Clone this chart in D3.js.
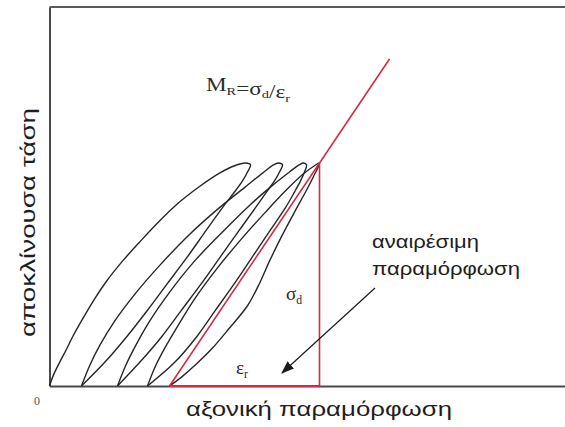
<!DOCTYPE html>
<html>
<head>
<meta charset="utf-8">
<script src="https://cdn.jsdelivr.net/npm/d3@7"></script>
<style>
  body { margin: 0; background: #fff; }
  svg { display: block; }
</style>
</head>
<body>
<svg id="chart" width="565" height="427"></svg>
<script>
// Repeated load–unload cycles: [axial strain, deviator stress] along each loop,
// loading branch first, then the unloading branch back to the strain axis.
const cycle1 = [
  [0, 0], [0.4, 5], [1, 10.5], [1.7, 16.5], [2.3, 22], [3.3, 30], [4.5, 39], [5.7, 47],
  [7.3, 56], [9, 64.5], [11, 74], [13, 82.5], [15, 89.5], [17, 95.5], [18.5, 98.8], [19.6, 100],
  [20.1, 99.2],
  [19.8, 96], [19.3, 92], [18.5, 87], [17.3, 80], [15.7, 70], [13.8, 58], [11.8, 46],
  [9.8, 34], [7.7, 22], [5.5, 10.5], [3.2, 0]
];
const cycle2 = [
  [3.2, 0], [4, 9], [5, 18], [6.5, 29], [8.5, 41], [11, 54], [14, 68], [17, 80], [19.5, 89],
  [21.3, 95.5], [22.4, 99.2], [22.9, 100],
  [23.3, 99.2],
  [23.0, 96], [22.5, 92], [21.7, 87], [20.6, 80], [19.0, 70], [17.1, 58], [15.2, 46],
  [13.2, 34], [11.2, 22], [9.0, 10.5], [6.8, 0]
];
const cycle3 = [
  [6.8, 0], [7.6, 9], [8.6, 18], [10, 29], [12, 42], [14.5, 56], [17.5, 70], [20, 81],
  [22.3, 90], [24, 96], [25, 99.3], [25.4, 100],
  [25.7, 99.2],
  [25.5, 96], [25.1, 92], [24.5, 87], [23.6, 80], [22.1, 70], [20.3, 58], [18.5, 46],
  [16.6, 34], [14.7, 22], [12.5, 10.5], [9.8, 0]
];
const cycle4 = [
  [9.8, 0], [10.5, 8], [11.4, 16], [12.7, 26], [14.5, 39], [16.8, 53], [19.2, 66], [21.6, 78],
  [23.7, 88], [25.4, 95.2], [26.5, 98.8], [27, 100],
  [26.4, 94], [25.6, 87], [24.5, 78], [23.2, 67], [22, 56], [21, 46], [19.8, 36], [18.0, 26],
  [16.3, 17], [14.6, 9.5], [13.2, 4], [12, 0]
];
const cycles = [cycle1, cycle2, cycle3, cycle4];

// Resilient modulus construction: permanent strain, peak strain, peak stress
const permanentStrain = 12;
const peakStrain = 27;
const peakStress = 100;
const modulusLineEnd = [34, 146.7];

// Text
const xAxisTitle = "αξονική παραμόρφωση";
const yAxisTitle = "αποκλίνουσα τάση";
const originLabel = "0";
const noteLines = ["αναιρέσιμη", "παραμόρφωση"];

const svg = d3.select("#chart");
const W = 565, H = 427;

const x = d3.scaleLinear().domain([0, 52]).range([49.5, 569.5]);
const y = d3.scaleLinear().domain([0, 170]).range([386, 7]);

// Frame: left and bottom axes plus a top rule
svg.append("g")
  .attr("transform", `translate(0,${y(0)})`)
  .call(d3.axisBottom(x).ticks(0).tickSizeOuter(0))
  .call(g => g.select(".domain").attr("stroke", "#4a4a4a").attr("stroke-width", 2));
svg.append("g")
  .attr("transform", `translate(${x(0)},0)`)
  .call(d3.axisLeft(y).ticks(0).tickSizeOuter(0))
  .call(g => g.select(".domain").attr("stroke", "#4a4a4a").attr("stroke-width", 2));
svg.append("line")
  .attr("x1", x(0)).attr("x2", W)
  .attr("y1", y(170)).attr("y2", y(170))
  .attr("stroke", "#5a5a5a").attr("stroke-width", 2);

// Hysteresis loops
const line = d3.line()
  .x(d => x(d[0])).y(d => y(d[1]))
  .curve(d3.curveCatmullRom.alpha(0.5));

svg.append("g")
  .selectAll("path")
  .data(cycles)
  .join("path")
  .attr("d", line)
  .attr("fill", "none")
  .attr("stroke", "#262626")
  .attr("stroke-width", 1.4);

// Resilient modulus triangle and chord
const red = "#d42a44";
const tri = svg.append("g").attr("stroke", red).attr("stroke-width", 1.6).attr("fill", "none");
tri.append("line")
  .attr("x1", x(permanentStrain)).attr("y1", y(0))
  .attr("x2", x(peakStrain)).attr("y2", y(0))
  .attr("stroke-width", 2.2);
tri.append("line")
  .attr("x1", x(peakStrain)).attr("y1", y(0))
  .attr("x2", x(peakStrain)).attr("y2", y(peakStress));
tri.append("line")
  .attr("x1", x(permanentStrain)).attr("y1", y(0))
  .attr("x2", x(modulusLineEnd[0])).attr("y2", y(modulusLineEnd[1]));

// Arrow pointing at the recoverable strain
svg.append("defs").append("marker")
  .attr("id", "head")
  .attr("markerUnits", "userSpaceOnUse")
  .attr("viewBox", "0 -5 12 10")
  .attr("refX", 11).attr("refY", 0)
  .attr("markerWidth", 13).attr("markerHeight", 11)
  .attr("orient", "auto")
  .append("path")
  .attr("d", "M0,-4.5L12,0L0,4.5Z")
  .attr("fill", "#1a1a1a");

svg.append("line")
  .attr("x1", 375).attr("y1", 288)
  .attr("x2", 282).attr("y2", 373)
  .attr("stroke", "#1a1a1a").attr("stroke-width", 1.2)
  .attr("marker-end", "url(#head)");

// Labels
const serif = "'Liberation Serif', 'Times New Roman', serif";
const sans = "'Liberation Sans', Arial, sans-serif";

svg.append("text")
  .attr("x", 37).attr("y", 405)
  .attr("font-family", serif).attr("font-size", 12)
  .attr("fill", "#555").attr("text-anchor", "middle")
  .text(originLabel);

svg.append("text")
  .attr("x", 186).attr("y", 416)
  .attr("font-family", sans).attr("font-size", 21)
  .attr("fill", "#1e1e1e")
  .attr("textLength", 266).attr("lengthAdjust", "spacingAndGlyphs")
  .text(xAxisTitle);

svg.append("text")
  .attr("transform", "translate(35,337) rotate(-90)")
  .attr("font-family", sans).attr("font-size", 21)
  .attr("fill", "#1e1e1e")
  .attr("textLength", 229).attr("lengthAdjust", "spacingAndGlyphs")
  .text(yAxisTitle);

const noteWidths = [107, 148];
svg.append("g")
  .selectAll("text")
  .data(noteLines)
  .join("text")
  .attr("x", 372)
  .attr("y", (d, i) => 248 + i * 27)
  .attr("font-family", sans).attr("font-size", 18)
  .attr("fill", "#1e1e1e")
  .attr("textLength", (d, i) => noteWidths[i]).attr("lengthAdjust", "spacingAndGlyphs")
  .text(d => d);

// Math labels with subscripts
function mathLabel(px, py, parts, size, length) {
  const t = svg.append("text")
    .attr("x", px).attr("y", py)
    .attr("font-family", serif).attr("font-size", size)
    .attr("fill", "#2a2a2a");
  if (length) t.attr("textLength", length).attr("lengthAdjust", "spacingAndGlyphs");
  parts.forEach(([s, sub]) => {
    t.append("tspan").attr("dy", 0).text(s);
    if (sub) {
      t.append("tspan")
        .attr("font-size", size * 0.62)
        .attr("dy", size * 0.2)
        .text(sub);
      t.append("tspan").attr("dy", -size * 0.2).text("");
    }
  });
  return t;
}

mathLabel(206, 91, [["M", "R"], ["=σ", "d"], ["/ε", "r"]], 18, 84);
mathLabel(286, 300, [["σ", "d"]], 19);
mathLabel(236, 374, [["ε", "r"]], 19);
</script>
</body>
</html>
